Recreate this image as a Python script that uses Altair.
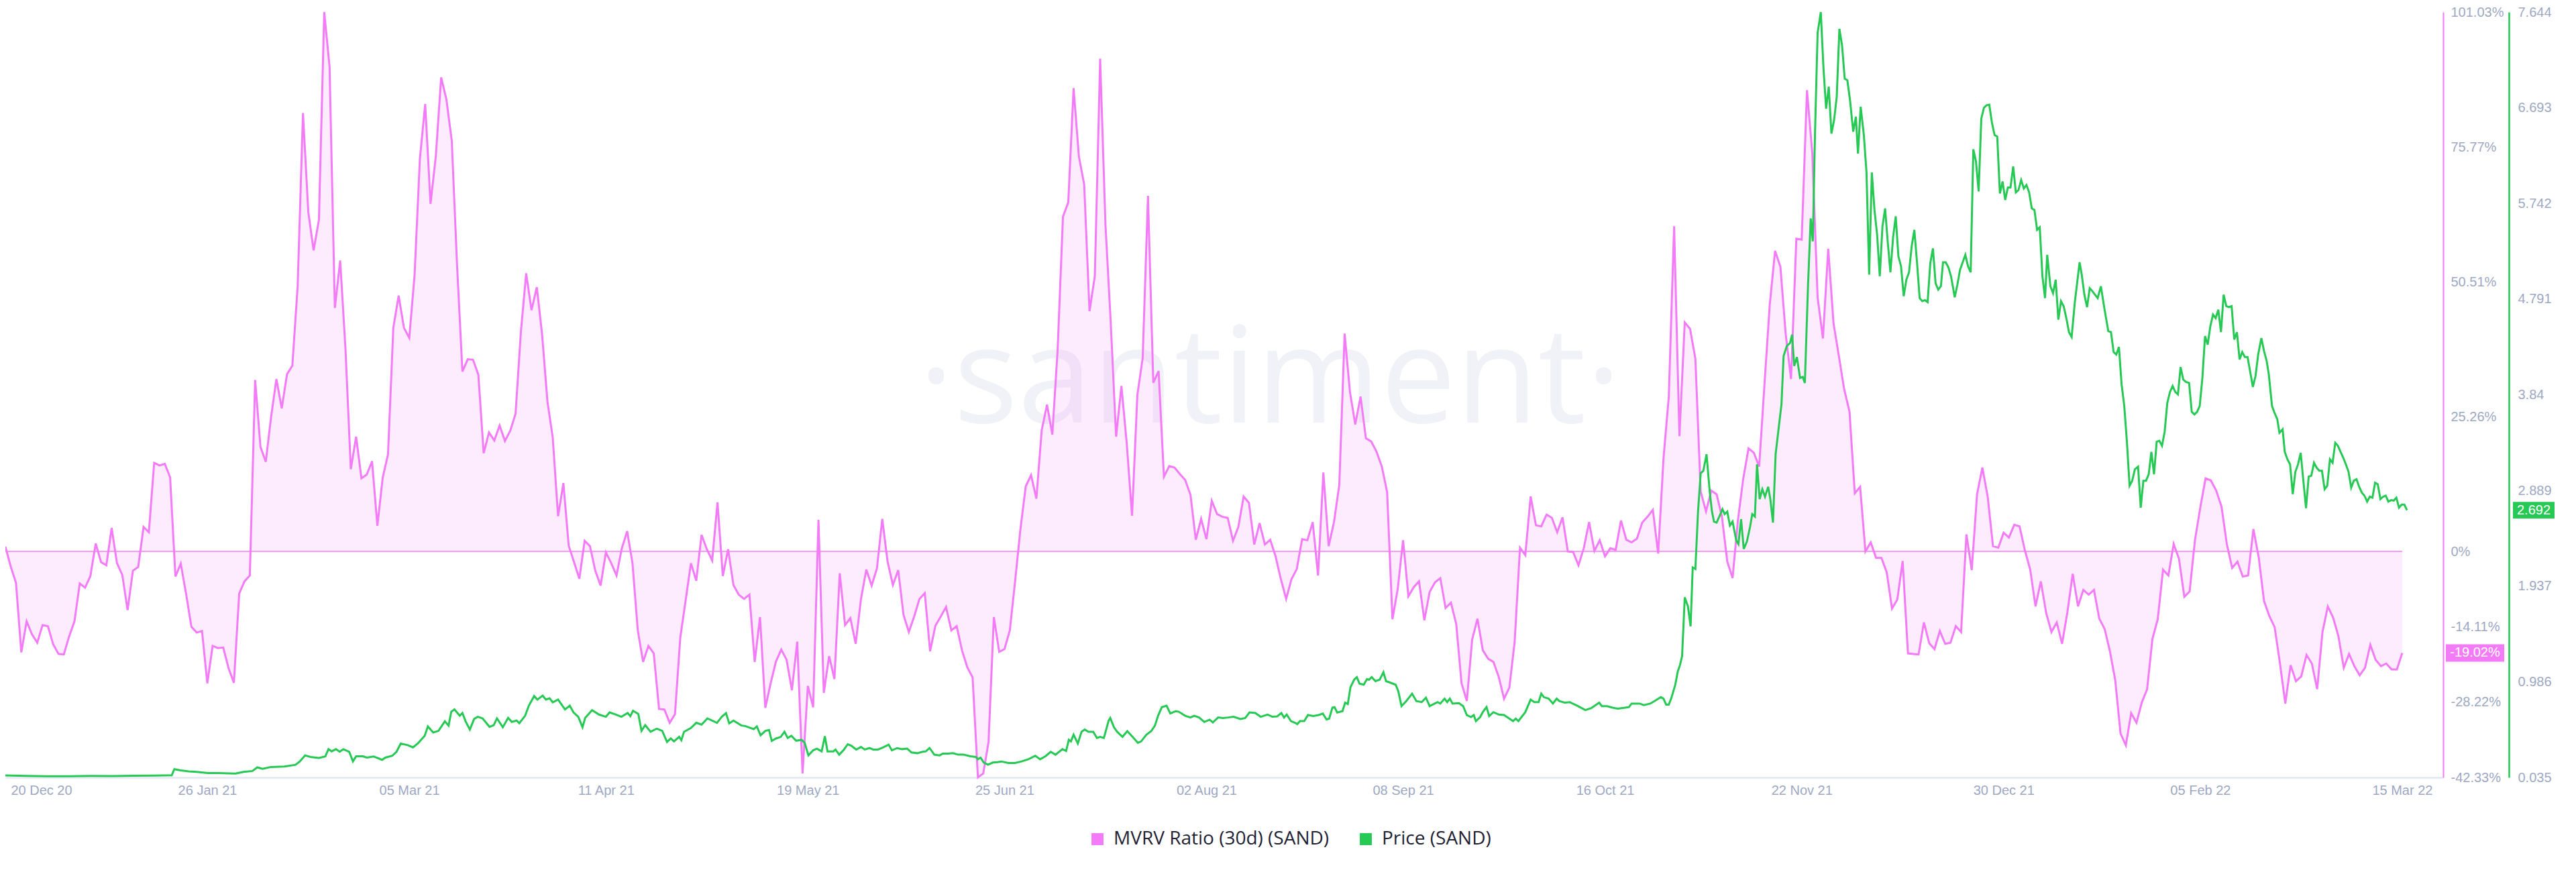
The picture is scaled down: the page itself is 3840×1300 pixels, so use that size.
import altair as alt
import pandas as pd

# ---------------- data ----------------
START = "2020-12-19"          # first day of the daily series
X_END = "2022-03-22T17:00:00"  # right edge of the time axis

# MVRV Ratio (30d) (SAND), %, one value per day starting at START
MVRV_PCT = [
    0.9, -2.8, -5.9, -18.9, -13.1, -15.5, -17.1, -13.8, -14.0, -17.4,
    -19.2, -19.3, -15.9, -13.1, -6.0, -6.8, -4.6, 1.5, -2.0, -2.6,
    4.4, -2.2, -4.4, -11.0, -3.6, -2.9, 4.6, 3.6, 16.6, 16.1,
    16.4, 13.9, -4.7, -2.3, -7.9, -14.1, -15.2, -14.9, -24.7, -17.7,
    -18.1, -18.0, -21.9, -24.6, -7.9, -5.6, -4.5, 32.1, 19.6, 16.8,
    25.2, 32.3, 26.8, 33.2, 34.8, 49.7, 82.1, 63.6, 56.4, 62.1,
    101.03, 90.8, 45.6, 54.5, 37.9, 15.4, 21.5, 13.7, 14.4, 16.9,
    4.8, 13.8, 18.2, 41.9, 47.9, 41.9, 40.0, 51.8, 73.6, 83.8,
    65.1, 74.1, 88.8, 84.6, 76.9, 53.5, 33.7, 36.0, 35.9, 33.1,
    18.4, 22.3, 20.8, 23.6, 20.7, 22.6, 25.8, 41.1, 52.1, 45.2,
    49.5, 40.6, 28.1, 21.3, 6.6, 12.8, 1.1, -2.0, -5.1, 2.0,
    1.0, -3.6, -6.4, -0.2, -2.2, -4.5, 0.6, 3.8, -2.2, -14.8,
    -20.7, -17.7, -19.1, -29.5, -29.6, -32.1, -30.5, -16.1, -9.2, -2.2,
    -5.5, 3.1, 0.4, -1.7, 9.2, -4.6, 0.4, -6.3, -8.1, -8.9,
    -8.1, -20.7, -12.3, -29.3, -24.7, -20.6, -18.4, -20.3, -26.0, -16.9,
    -41.6, -25.2, -29.2, 5.9, -26.5, -19.6, -23.9, -4.1, -13.8, -12.5,
    -17.3, -8.9, -3.4, -6.4, -3.2, 6.1, -1.9, -6.3, -3.5, -11.9,
    -15.1, -12.2, -8.9, -7.8, -18.7, -13.9, -12.2, -10.4, -14.8, -14.0,
    -18.5, -21.7, -23.6, -42.33, -41.6, -35.7, -12.3, -18.8, -18.3, -14.8,
    -5.6, 4.2, 12.2, 14.3, 9.9, 22.7, 27.5, 21.9, 37.8, 62.7,
    65.4, 86.8, 74.0, 68.7, 45.0, 51.6, 92.3, 61.2, 42.7, 21.5,
    31.0, 20.3, 6.7, 29.3, 36.2, 66.6, 31.6, 33.8, 14.0, 16.0,
    15.7, 14.5, 13.4, 10.6, 2.2, 6.1, 2.3, 9.5, 7.0, 6.5,
    6.3, 2.0, 4.6, 10.3, 9.1, 1.3, 5.3, 1.3, 2.2, -0.9,
    -5.2, -8.9, -5.2, -3.3, 2.3, 2.1, 5.5, -4.5, 14.8, 1.0,
    5.5, 12.5, 40.8, 29.9, 23.8, 29.0, 21.2, 20.6, 18.7, 15.9,
    11.1, -12.7, -7.0, 2.1, -8.4, -6.7, -5.6, -12.9, -7.6, -5.8,
    -5.0, -10.6, -9.6, -13.6, -24.7, -28.0, -16.5, -12.6, -18.5, -20.1,
    -20.7, -23.5, -27.6, -25.5, -16.9, 0.7, -0.7, 10.3, 4.9, 4.7,
    6.9, 6.3, 3.6, 6.4, 0.0, -0.1, -2.6, 0.6, 5.5, 0.1,
    2.1, -0.9, 0.6, 0.3, 5.8, 2.2, 1.7, 2.4, 5.4, 6.5,
    7.8, -0.4, 17.4, 29.0, 60.9, 21.6, 42.9, 41.7, 36.1, 11.2,
    7.5, 11.4, 10.7, 6.5, -1.9, -5.0, 5.8, 13.6, 19.3, 18.5,
    15.9, 31.3, 46.3, 56.3, 53.3, 40.7, 32.3, 58.6, 58.4, 86.4,
    74.6, 47.6, 39.9, 56.7, 42.7, 36.6, 30.4, 26.2, 10.9, 12.1,
    0.0, 1.7, -1.2, -1.2, -3.9, -10.7, -9.0, -1.8, -19.1, -19.2,
    -19.3, -13.3, -17.2, -18.3, -14.9, -17.3, -17.1, -14.0, -15.1, 3.2,
    -3.5, 10.7, 15.7, 10.3, 1.0, 0.7, 3.5, 2.6, 5.0, 4.7,
    0.2, -3.4, -10.3, -5.6, -11.5, -15.1, -13.3, -17.3, -11.4, -4.2,
    -10.3, -7.2, -8.1, -7.2, -12.6, -14.5, -18.7, -24.1, -34.1, -36.3,
    -30.3, -32.1, -28.3, -25.8, -16.4, -12.7, -3.4, -4.5, 1.4, -1.4,
    -8.5, -7.5, 2.1, 8.2, 13.7, 13.3, 11.4, 8.4, 1.4, -3.1,
    -1.9, -4.7, -4.5, 4.2, -1.1, -9.3, -12.1, -14.2, -21.0, -28.5,
    -21.3, -24.3, -23.4, -19.4, -21.0, -25.8, -15.1, -10.3, -12.4, -15.9,
    -21.8, -19.2, -21.5, -23.2, -21.8, -17.5, -20.3, -21.5, -21.0, -22.1,
    -22.1, -19.02,
]

# Price (SAND), USD: observation time (days after START) and value
PRICE_DAYS = [
    0, 4, 8, 12, 16, 20, 24, 28, 31.3, 31.8,
    33, 34.5, 36, 38.1, 40, 43.3, 44.8, 46.5, 47.4, 48.4,
    50, 52.5, 54.6, 55.4, 56.4, 57.4, 59, 60.2, 60.8, 61.4,
    62.2, 62.9, 63.6, 64.7, 65.4, 66, 67.3, 68, 69.3, 70.9,
    71.5, 72.8, 73.6, 74.4, 75.7, 76.7, 77.6, 78.9, 79.5, 80.5,
    81.5, 82.7, 83.4, 83.9, 84.5, 85.5, 86, 86.6, 87.4, 88.2,
    88.9, 89.8, 91.1, 91.9, 92.5, 93.6, 94.6, 95.3, 96.2, 96.7,
    97.8, 98.5, 99.5, 100.1, 101.1, 101.7, 102.4, 103, 104, 105.3,
    106.2, 106.9, 107.8, 108.6, 109.1, 110.4, 111.7, 113, 113.7, 114.9,
    115.9, 117.1, 117.6, 118.1, 119.1, 119.7, 120.4, 121.4, 122.6, 123.6,
    124.5, 125.2, 125.8, 126.8, 127.2, 127.7, 129, 130, 131, 132.1,
    133.9, 134.8, 135.6, 136.2, 137, 138.5, 139.2, 140.8, 141.4, 142.1,
    143, 143.7, 144.2, 145, 145.9, 146.6, 147.2, 147.9, 148.8, 149.8,
    150.4, 151.1, 152, 152.7, 153.6, 154.2, 154.7, 155.8, 156.2, 156.9,
    157.8, 158.5, 159.2, 160.1, 161, 161.7, 162.6, 163.3, 164.2, 165.2,
    166.2, 166.8, 167.8, 168.7, 169.7, 170.5, 171.6, 172.6, 173.2, 173.9,
    174.8, 175.8, 176.4, 177.4, 178.3, 179.3, 180.3, 181.6, 182.6, 183,
    183.5, 184.1, 184.9, 185.8, 186.7, 187.4, 188.7, 190, 191.2, 192.5,
    193.8, 194.7, 195.7, 196.7, 197.6, 198.9, 199.6, 200.1, 200.5, 201,
    201.8, 202.5, 203.1, 203.8, 204.7, 205.4, 206, 206.7, 207.6, 207.9,
    208.6, 209.2, 210.2, 211.1, 212.1, 213.1, 213.7, 214.7, 215.6, 216.3,
    216.9, 217.6, 218.5, 219.2, 220.2, 220.8, 222, 223, 223.7, 224.6,
    225.6, 226.6, 227.2, 228.2, 229.1, 230.1, 231.1, 232.4, 233.3, 234.1,
    235.2, 236.2, 237.5, 238.4, 239.3, 240.1, 240.6, 241.1, 241.9, 242.6,
    243.1, 243.6, 244.4, 245.1, 246.1, 247.1, 247.9, 248.6, 249.1, 249.7,
    250.1, 250.6, 251.6, 252.1, 252.6, 253.1, 253.8, 254.3, 254.8, 255.6,
    256.2, 256.6, 257.1, 257.8, 258.6, 259.3, 259.8, 260.6, 261.6, 262.1,
    262.7, 263.6, 264.7, 265.5, 266.5, 267.3, 268, 269.5, 270, 270.8,
    271.3, 271.8, 272.3, 273.5, 274.3, 275, 275.8, 276.3, 276.7, 277.5,
    278, 278.7, 279.2, 280, 281, 282, 282.7, 283.7, 284.2, 284.7,
    286, 287, 287.7, 288.5, 289, 289.5, 290.4, 291.2, 291.9, 292.4,
    293.4, 294.4, 294.9, 295.9, 297.3, 298.4, 299.9, 300.4, 301.4, 302.4,
    303.4, 304.8, 305.5, 306, 307.5, 308.3, 309.5, 310.3, 311.5, 312,
    312.5, 313, 313.5, 314.2, 314.7, 315.1, 315.5, 316, 316.6, 317.1,
    317.5, 318, 318.5, 319, 319.5, 320.1, 320.7, 321.1, 321.5, 322,
    322.5, 323.1, 323.5, 324, 324.5, 325, 325.7, 326.1, 326.6, 327.1,
    327.7, 328.3, 328.7, 329.2, 329.6, 330.1, 330.6, 331.1, 331.7, 332.1,
    332.6, 333.1, 333.7, 334.2, 334.6, 335.2, 335.8, 336.2, 336.6, 337.1,
    337.7, 338.2, 338.6, 339.2, 339.7, 340.1, 340.5, 341, 341.6, 342.1,
    342.6, 343.1, 343.6, 344.1, 344.6, 345.1, 345.6, 346.1, 346.6, 347.1,
    347.7, 348.2, 348.6, 349.1, 349.7, 350.2, 350.7, 351.2, 351.7, 352.2,
    352.7, 353.2, 353.7, 354.2, 354.7, 355.2, 355.7, 356.2, 356.7, 357.2,
    357.7, 358.2, 358.7, 359.2, 359.7, 360.2, 360.7, 361.2, 361.7, 362.2,
    362.7, 363.2, 363.7, 364.2, 364.6, 365.1, 365.6, 366.1, 366.8, 367.3,
    367.8, 368.3, 368.8, 369.3, 369.8, 370.3, 370.8, 371.3, 371.8, 372.3,
    372.8, 373.3, 373.8, 374.3, 374.8, 375.3, 375.8, 376.3, 376.8, 377.3,
    377.8, 378.3, 378.8, 379.3, 379.8, 380.3, 380.8, 381.3, 381.8, 382.3,
    382.8, 383.3, 383.8, 384.2, 384.8, 385.3, 385.8, 386.3, 386.8, 387.3,
    387.8, 388.3, 388.8, 389.4, 390.3, 390.7, 391.2, 391.7, 392.2, 392.7,
    393.7, 394.3, 395, 395.7, 396.2, 396.7, 397.2, 397.7, 398.2, 398.7,
    399.2, 399.7, 400.2, 400.7, 401.3, 401.8, 402.3, 402.8, 403.3, 403.8,
    404.3, 404.8, 405.3, 405.8, 406.3, 406.8, 407.3, 407.8, 408.3, 408.8,
    409.3, 409.8, 410.3, 410.9, 411.4, 411.9, 412.4, 412.9, 413.4, 413.9,
    414.4, 414.9, 415.4, 415.9, 416.4, 416.9, 417.4, 417.9, 418.4, 418.9,
    419.4, 419.9, 420.4, 420.9, 421.4, 421.9, 422.4, 422.9, 423.4, 423.9,
    424.5, 425, 425.5, 425.9, 426.5, 426.9, 427.5, 427.9, 428.5, 428.9,
    429.4, 429.9, 430.4, 430.9, 431.4, 431.9, 432.4, 432.9, 433.4, 433.9,
    434.4, 434.9, 435.4, 435.9, 436.4, 436.9, 437.4, 437.9, 438.4, 438.9,
    439.4, 439.9, 440.4, 440.9, 441.4, 441.9, 442.4, 442.9, 443.4, 443.9,
    444.4, 444.9, 445.4, 445.9, 446.4, 446.9, 447.4, 447.9, 448.4, 448.9,
    449.4, 449.9, 450.4, 450.9, 451.4, 451.9,
]
PRICE_USD = [
    0.055, 0.05, 0.046, 0.047, 0.05, 0.049, 0.051, 0.053, 0.056, 0.117,
    0.105, 0.095, 0.09, 0.079, 0.078, 0.073, 0.09, 0.099, 0.135, 0.121,
    0.139, 0.143, 0.161, 0.194, 0.254, 0.239, 0.228, 0.243, 0.316, 0.294,
    0.316, 0.29, 0.316, 0.29, 0.194, 0.245, 0.245, 0.232, 0.243, 0.21,
    0.232, 0.25, 0.29, 0.372, 0.356, 0.334, 0.372, 0.449, 0.542, 0.482,
    0.498, 0.593, 0.549, 0.688, 0.711, 0.648, 0.675, 0.593, 0.511, 0.616,
    0.638, 0.622, 0.538, 0.555, 0.622, 0.534, 0.627, 0.587, 0.6, 0.574,
    0.648, 0.748, 0.844, 0.809, 0.848, 0.809, 0.822, 0.782, 0.809, 0.711,
    0.748, 0.682, 0.638, 0.534, 0.627, 0.704, 0.66, 0.638, 0.682, 0.66,
    0.638, 0.675, 0.644, 0.698, 0.666, 0.498, 0.555, 0.489, 0.52, 0.498,
    0.388, 0.423, 0.394, 0.438, 0.405, 0.489, 0.527, 0.578, 0.56, 0.622,
    0.578, 0.638, 0.675, 0.572, 0.6, 0.551, 0.546, 0.515, 0.542, 0.454,
    0.498, 0.507, 0.398, 0.422, 0.438, 0.489, 0.427, 0.449, 0.4, 0.409,
    0.379, 0.254, 0.305, 0.321, 0.294, 0.445, 0.294, 0.294, 0.312, 0.261,
    0.312, 0.365, 0.349, 0.312, 0.338, 0.312, 0.327, 0.312, 0.312, 0.334,
    0.361, 0.305, 0.327, 0.316, 0.321, 0.283, 0.276, 0.29, 0.294, 0.327,
    0.261, 0.254, 0.272, 0.272, 0.276, 0.261, 0.261, 0.245, 0.239, 0.216,
    0.232, 0.183, 0.161, 0.183, 0.187, 0.194, 0.179, 0.179, 0.194, 0.216,
    0.25, 0.216, 0.245, 0.29, 0.261, 0.316, 0.298, 0.409, 0.393, 0.46,
    0.372, 0.489, 0.511, 0.489, 0.489, 0.427, 0.438, 0.427, 0.6, 0.626,
    0.533, 0.489, 0.438, 0.495, 0.438, 0.379, 0.393, 0.46, 0.495, 0.549,
    0.648, 0.733, 0.748, 0.671, 0.693, 0.688, 0.648, 0.631, 0.648, 0.631,
    0.586, 0.609, 0.582, 0.631, 0.626, 0.631, 0.638, 0.615, 0.626, 0.682,
    0.675, 0.638, 0.66, 0.638, 0.642, 0.675, 0.63, 0.66, 0.595, 0.58,
    0.565, 0.595, 0.595, 0.655, 0.645, 0.655, 0.67, 0.61, 0.62, 0.729,
    0.734, 0.68, 0.694, 0.779, 0.764, 0.932, 1.007, 1.032, 0.967, 0.957,
    1.012, 1.007, 1.032, 0.992, 1.007, 1.081, 0.992, 0.977, 0.957, 0.893,
    0.744, 0.794, 0.868, 0.794, 0.784, 0.828, 0.744, 0.784, 0.769, 0.818,
    0.784, 0.818, 0.769, 0.774, 0.744, 0.655, 0.635, 0.655, 0.595, 0.635,
    0.684, 0.734, 0.645, 0.684, 0.66, 0.655, 0.63, 0.595, 0.62, 0.595,
    0.684, 0.808, 0.784, 0.784, 0.868, 0.833, 0.818, 0.769, 0.818, 0.794,
    0.779, 0.784, 0.769, 0.744, 0.704, 0.724, 0.779, 0.744, 0.744, 0.729,
    0.719, 0.729, 0.734, 0.769, 0.769, 0.754, 0.769, 0.794, 0.833, 0.818,
    0.759, 0.759, 0.828, 0.952, 1.091, 1.151, 1.24, 1.825, 1.736, 1.537,
    2.122, 2.107, 2.678, 3.059, 3.084, 3.248, 2.876, 2.687, 2.578, 2.568,
    2.628, 2.702, 2.653, 2.678, 2.539, 2.578, 2.39, 2.355, 2.603, 2.306,
    2.38, 2.529, 2.653, 2.628, 3.148, 2.802, 2.901, 2.826, 2.925, 2.802,
    2.568, 3.248, 3.52, 3.743, 4.224, 4.324, 4.353, 4.438, 4.125, 4.214,
    4.006, 4.016, 3.957, 4.933, 5.593, 5.365, 6.421, 7.437, 7.644, 7.09,
    6.683, 6.902, 6.436, 6.57, 6.802, 7.477, 7.313, 6.981, 6.966, 6.767,
    6.455, 6.604, 6.237, 6.703, 6.421, 6.049, 5.033, 6.049, 5.677, 5.429,
    5.018, 5.513, 5.692, 5.355, 5.057, 5.404, 5.613, 5.216, 5.117, 4.819,
    4.983, 5.057, 5.315, 5.479, 5.157, 4.8, 4.77, 4.78, 4.76, 5.147,
    5.295, 4.948, 4.884, 4.918, 5.157, 5.157, 5.107, 5.018, 4.809, 4.933,
    5.082, 5.157, 5.231, 5.117, 5.057, 6.28, 6.158, 5.861, 6.584, 6.693,
    6.718, 6.723, 6.545, 6.421, 6.406, 5.841, 5.96, 5.776, 5.9, 5.9,
    6.11, 5.851, 5.875, 5.974, 5.89, 5.925, 5.851, 5.692, 5.677, 5.479,
    5.504, 5.018, 4.8, 5.231, 4.918, 4.849, 4.983, 4.586, 4.77, 4.72,
    4.601, 4.462, 4.413, 4.76, 5.157, 5.033, 4.834, 4.71, 4.899, 4.869,
    4.8, 4.918, 4.685, 4.472, 4.462, 4.264, 4.239, 4.314, 3.942, 3.729,
    3.372, 2.935, 2.985, 3.099, 3.124, 2.717, 2.985, 2.985, 3.049, 3.272,
    3.049, 3.372, 3.382, 3.332, 3.471, 3.758, 3.867, 3.927, 3.867, 3.843,
    4.115, 3.991, 3.967, 3.957, 3.669, 3.644, 3.669, 3.729, 4.006, 4.423,
    4.338, 4.522, 4.636, 4.601, 4.685, 4.462, 4.834, 4.72, 4.71, 4.72,
    4.388, 4.462, 4.19, 4.264, 4.215, 4.215, 4.066, 3.917, 4.026, 4.239,
    4.403, 4.274, 4.175, 4.041, 3.729, 3.669, 3.595, 3.461, 3.496, 3.272,
    3.198, 3.148, 2.851, 3.074, 3.148, 3.262, 2.985, 2.712, 3.025, 3.035,
    3.163, 3.114, 3.084, 3.084, 2.901, 2.935, 3.198, 3.163, 3.362, 3.332,
    3.272, 3.213, 3.148, 3.074, 2.916, 2.985, 3.0, 2.925, 2.866, 2.836,
    2.777, 2.826, 2.816, 2.965, 2.95, 2.802, 2.826, 2.836, 2.777, 2.792,
    2.787, 2.816, 2.717, 2.747, 2.747, 2.692,
]

X_TICK_DATES = ["2020-12-20", "2021-01-26", "2021-03-05", "2021-04-11", "2021-05-19",
                "2021-06-25", "2021-08-02", "2021-09-08", "2021-10-16", "2021-11-22",
                "2021-12-30", "2022-02-05", "2022-03-15"]
MVRV_TICKS = [-42.33, -28.22, -14.11, 0, 25.26, 50.51, 75.77, 101.03]
PRICE_TICKS = [0.035, 0.986, 1.937, 2.889, 3.84, 4.791, 5.742, 6.693, 7.644]
SERIES = ["MVRV Ratio (30d) (SAND)", "Price (SAND)"]

# ---------------- styling ----------------
PINK = "#f47bf7"
GREEN = "#26c953"
LABEL = "#9ea8c3"
FONT = "Liberation Sans"
W, H = 3634, 1141

start = pd.Timestamp(START, tz="UTC")


def ms(ts):
    return int(ts.value // 10**6)


n = min(len(PRICE_DAYS), len(PRICE_USD))
mvrv = pd.DataFrame({
    "t": [ms(start + pd.Timedelta(days=i)) for i in range(len(MVRV_PCT))],
    "v": MVRV_PCT,
})
price = pd.DataFrame({
    "t": [ms(start + pd.Timedelta(days=float(d))) for d in PRICE_DAYS[:n]],
    "p": PRICE_USD[:n],
})
mvrv_last = mvrv.tail(1).assign(label=lambda d: d["v"].map(lambda v: f"{v:.2f}%"))
price_last = price.tail(1).assign(label=lambda d: d["p"].map(lambda v: f"{v:.3f}"))
zero = pd.DataFrame({"t": [mvrv["t"].iloc[0]], "t2": [mvrv["t"].iloc[-1]], "z": [0]})
legend_df = pd.DataFrame({"series": SERIES})
mark_df = pd.DataFrame({"w": ["·santiment·"]})

xscale = alt.Scale(type="utc", domain=[ms(start), ms(pd.Timestamp(X_END, tz="UTC"))])
xaxis = alt.Axis(
    values=[ms(pd.Timestamp(d, tz="UTC")) for d in X_TICK_DATES],
    format="%d %b %y", labelColor=LABEL, labelFontSize=20, labelFont=FONT,
    domainColor="#e3e7f1", domainWidth=2.5, ticks=False, labelPadding=9,
    labelFlush=40, grid=False, title=None, labelOverlap=False,
)
X = alt.X("t:T", scale=xscale, axis=xaxis)

m_scale = alt.Scale(domain=[-42.33, 101.03], nice=False, zero=False)
m_axis = alt.Axis(
    orient="right", values=MVRV_TICKS, labelExpr="datum.value + '%'",
    ticks=False, domainColor=PINK, domainWidth=2, labelColor=LABEL,
    labelFontSize=20, labelFont=FONT, labelPadding=11, grid=False, title=None,
    labelFlush=False, labelOverlap=False,
)
p_scale = alt.Scale(domain=[0.035, 7.644], nice=False, zero=False)
p_axis = alt.Axis(
    orient="right", offset=98, values=PRICE_TICKS, labelExpr="'' + datum.value",
    ticks=False, domainColor=GREEN, domainWidth=2.5, labelColor=LABEL,
    labelFontSize=20, labelFont=FONT, labelPadding=13, grid=False, title=None,
    labelFlush=False, labelOverlap=False,
)

watermark = alt.Chart(mark_df).mark_text(
    font="Open Sans", fontSize=200, color="#f1f2f8",
    align="center", baseline="alphabetic",
).encode(x=alt.value(1885), y=alt.value(612), text="w:N")

area = alt.Chart(mvrv).mark_area(color=PINK, opacity=0.15).encode(
    x=X, y=alt.Y("v:Q", scale=m_scale, axis=m_axis), y2=alt.datum(0))
mline = alt.Chart(mvrv).mark_line(color=PINK, strokeWidth=3).encode(
    x=X, y=alt.Y("v:Q", scale=m_scale, axis=m_axis))
zrule = alt.Chart(zero).mark_rule(color=PINK, strokeWidth=1.5).encode(
    x=X, x2="t2:T", y=alt.Y("z:Q", scale=m_scale, axis=m_axis))
m_badge = alt.Chart(mvrv_last).mark_point(
    shape="M-1,-0.3L1,-0.3L1,0.3L-1,0.3Z", filled=True, size=87 * 87,
    color=PINK, opacity=1,
).encode(x=alt.value(3681.5), y=alt.Y("v:Q", scale=m_scale, axis=m_axis))
m_badge_t = alt.Chart(mvrv_last).mark_text(
    color="white", fontSize=20, font=FONT, align="center", baseline="middle",
).encode(x=alt.value(3681.5), y=alt.Y("v:Q", scale=m_scale, axis=m_axis), text="label:N")

pline = alt.Chart(price).mark_line(color=GREEN, strokeWidth=3).encode(
    x=X, y=alt.Y("p:Q", scale=p_scale, axis=p_axis))
p_badge = alt.Chart(price_last).mark_point(
    shape="M-1,-0.4L1,-0.4L1,0.4L-1,0.4Z", filled=True, size=62 * 62,
    color=GREEN, opacity=1,
).encode(x=alt.value(3769), y=alt.Y("p:Q", scale=p_scale, axis=p_axis))
p_badge_t = alt.Chart(price_last).mark_text(
    color="white", fontSize=20, font=FONT, align="center", baseline="middle",
).encode(x=alt.value(3769), y=alt.Y("p:Q", scale=p_scale, axis=p_axis), text="label:N")

legend_pts = alt.Chart(legend_df).mark_point(
    filled=True, shape="square", opacity=0,
).encode(
    x=alt.value(10), y=alt.value(10),
    color=alt.Color("series:N", scale=alt.Scale(domain=SERIES, range=[PINK, GREEN]),
                    legend=alt.Legend(
                        orient="none", legendX=1614, legendY=1219, direction="horizontal",
                        title=None, symbolType="square", symbolSize=320, symbolOpacity=1,
                        symbolStrokeWidth=0, labelFontSize=28, labelFont="Open Sans",
                        labelColor="#1f2233", labelOffset=10, columnPadding=40, padding=0,
                        labelLimit=1000,
                    )),
)

pink_group = alt.layer(watermark, area, zrule, mline, m_badge, m_badge_t)
green_group = alt.layer(pline, p_badge, p_badge_t, legend_pts)

chart = alt.layer(pink_group, green_group).resolve_scale(y="independent").properties(
    width=W, height=H,
    padding={"left": 0, "top": 10, "right": 190, "bottom": 130},
    autosize=alt.AutoSizeParams(type="none"),
    background="white",
).configure_view(strokeWidth=0)

chart.save("out.html", embed_options={"renderer": "svg", "actions": False})
